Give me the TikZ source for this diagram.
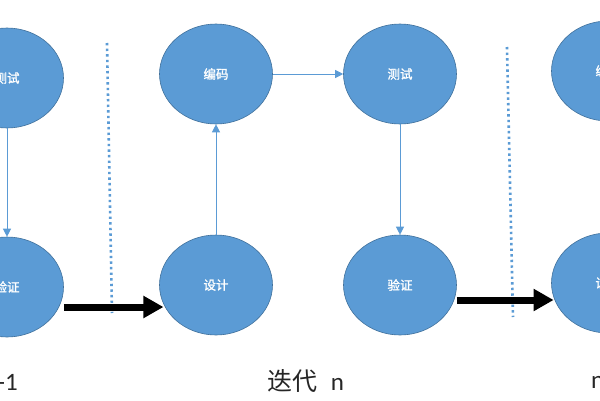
\documentclass[tikz,border=0pt]{standalone}
\usepackage{fontspec}
\setmainfont{Carlito}
\newfontfamily\cjk{Noto Sans CJK SC}
\newfontfamily\cjkb{Noto Sans CJK SC}[FakeBold=1.5]
\usetikzlibrary{shapes.geometric,arrows.meta}
\definecolor{ofill}{HTML}{5B9BD5}
\definecolor{odraw}{HTML}{41719C}
\begin{document}
\begin{tikzpicture}[x=1pt,y=-1pt,
  phase/.style={ellipse,fill=ofill,draw=odraw,line width=0.6pt,minimum width=113pt,minimum height=100pt,inner sep=0pt,text=white,font=\cjkb\fontsize{12.5}{12.5}\selectfont},
  thin/.style={draw=ofill,line width=1pt,-{Triangle[length=8pt,width=8pt]}},
  thick/.style={draw=black,line width=7pt,-{Triangle[length=20pt,width=21pt]}},
  sep/.style={draw=ofill,line width=2.6pt,dash pattern=on 2.4pt off 3.2pt},
  lbl/.style={font=\fontsize{25}{25}\selectfont,text=black!85,inner sep=0pt}]
\useasboundingbox (0,0) rectangle (600,400);
\clip (0,0) rectangle (600,400);
% iteration n-1
\node[phase] (lt) at (7,78) {测试};
\node[phase] (lv) at (7,287) {验证};
% iteration n
\node[phase] (bm) at (216,74) {编码};
\node[phase] (cs) at (400,74) {测试};
\node[phase] (sj) at (216,285) {设计};
\node[phase] (yz) at (400,285) {验证};
% iteration n+1
\node[phase] (rb) at (608,71) {编码};
\node[phase] (rs) at (608,283) {设计};
% separators
\coordinate (s1a) at (107,43);
\coordinate (s1b) at (112,313);
\coordinate (s2a) at (507,47);
\coordinate (s2b) at (513,317);
\draw[sep] (s1a) -- (s1b);
\draw[sep] (s2a) -- (s2b);
% thin arrows
\draw[thin] (lt) -- (lv);
\draw[thin] (sj) -- (bm);
\draw[thin] (bm) -- (cs);
\draw[thin] (cs) -- (yz);
% thick arrows
\draw[thick] ([yshift=-20pt]lv.east) -- ([yshift=-20pt]lv.east -| sj.200);
\draw[thick] ([yshift=-15pt]yz.east) -- ([yshift=-15pt]yz.east -| rs.195);
% labels
\node[lbl,anchor=east] (l1) at (18,382) {-1};
\node[lbl] (l2) at (306,381) {{\cjk 迭代}\hspace{13pt}n};
\node[lbl,anchor=west] (l3) at (591,382) {n};
\end{tikzpicture}
\end{document}
